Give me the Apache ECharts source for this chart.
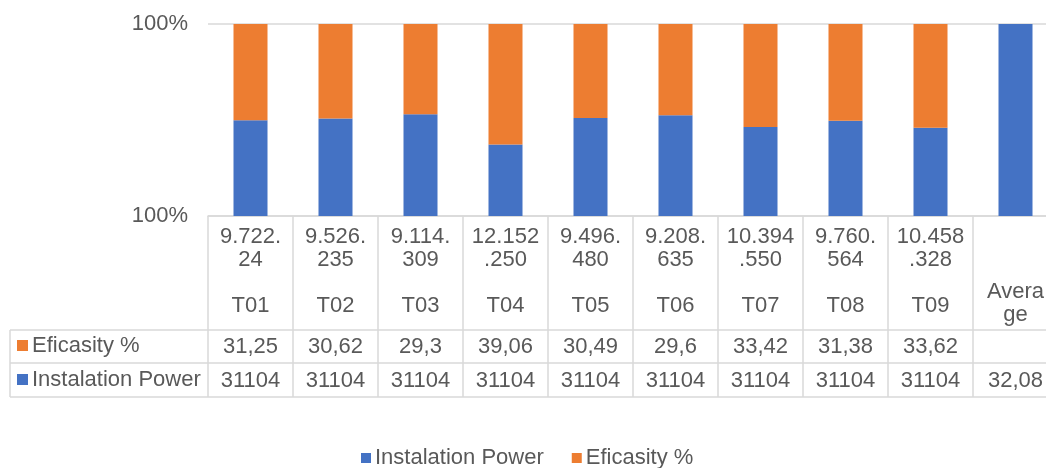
<!DOCTYPE html>
<html>
<head>
<meta charset="utf-8">
<script src="https://cdn.jsdelivr.net/npm/echarts@6/dist/echarts.min.js"></script>
<style>
  html, body { margin: 0; padding: 0; background: #fff; }
  #chart { width: 1046px; height: 468px; }
</style>
</head>
<body>
<div id="chart"></div>
<script>
// Turbine tags and annual yield labels shown in the data table header
const tags = ['T01', 'T02', 'T03', 'T04', 'T05', 'T06', 'T07', 'T08', 'T09', 'Average'];
const yields = ['9.722.24', '9.526.235', '9.114.309', '12.152.250', '9.496.480',
                '9.208.635', '10.394.550', '9.760.564', '10.458.328', ''];

// Series values
const eficasity = [31.25, 30.62, 29.3, 39.06, 30.49, 29.6, 33.42, 31.38, 33.62, null];
const instPower = [31104, 31104, 31104, 31104, 31104, 31104, 31104, 31104, 31104, 32.08];

// Value axis range (percent of the stacked column)
const yMin = 99.8;
const yMax = 100;
const yStep = 0.2;

const TEXT = '#595959';
const LINE = '#d9d9d9';
const BLUE = '#4472C4';
const ORANGE = '#ED7D31';
const FONT = "'Liberation Sans', Arial, sans-serif";
const FS = 22;

// 100% stacking: each column's share of its total
const totals = tags.map((_, i) => (instPower[i] || 0) + (eficasity[i] || 0));
const instShare = instPower.map((v, i) => v == null ? null : v / totals[i] * 100);
const efiShare = eficasity.map((v, i) => v == null ? null : v / totals[i] * 100);

const fmtNum = v => v == null ? '' : String(v).replace('.', ',');

// Table geometry
const gridLeft = 208, gridTop = 24, gridWidth = 850, gridHeight = 192;
const axisY = gridTop + gridHeight;
const rowTop = 330, rowMid = 363, tableBottom = 397, tableLeft = 10;

const chart = echarts.init(document.getElementById('chart'), null, { renderer: 'canvas' });

const labelBase = { color: TEXT, fontFamily: FONT, fontSize: FS };

chart.setOption({
  animation: false,
  textStyle: { fontFamily: FONT },
  grid: {
    left: gridLeft, top: gridTop, width: gridWidth, height: gridHeight,
    containLabel: false, outerBoundsMode: 'none'
  },
  legend: [
    {
      data: ['Instalation Power', 'Eficasity %'],
      left: 361, top: 447, padding: 0,
      icon: 'rect', itemWidth: 10, itemHeight: 10, itemGap: 28,
      selectedMode: false,
      textStyle: { color: TEXT, fontFamily: FONT, fontSize: FS, padding: [0, 0, 0, -1] }
    },
    {
      data: ['Eficasity %', 'Instalation Power'],
      orient: 'vertical',
      left: 17, top: 334, padding: 0,
      icon: 'rect', itemWidth: 11, itemHeight: 11, itemGap: 11,
      selectedMode: false,
      textStyle: { color: TEXT, fontFamily: FONT, fontSize: FS, lineHeight: 23, padding: [0, 0, 0, -1] }
    }
  ],
  xAxis: [
    {
      type: 'category',
      data: tags,
      position: 'bottom',
      axisLine: { show: true, lineStyle: { color: LINE, width: 1.5 } },
      axisTick: {
        show: true, interval: 0, alignWithLabel: false,
        length: tableBottom - axisY,
        lineStyle: { color: LINE, width: 1.5 }
      },
      axisLabel: Object.assign({}, labelBase, {
        interval: 0,
        margin: 9,
        lineHeight: 23,
        align: 'center',
        formatter: (value, index) => {
          const y = yields[index];
          if (!y) {
            // wrapped tag under an empty yield cell
            return '{gap| }\n{c|' + value.slice(0, 5) + '}\n{c|' + value.slice(5) + '}';
          }
          return y.slice(0, 6) + '\n' + y.slice(6) + '\n\n' + value;
        },
        rich: {
          gap: { fontSize: 4, lineHeight: 55 },
          c: { color: TEXT, fontFamily: FONT, fontSize: FS, lineHeight: 23 }
        }
      }),
      splitLine: { show: false }
    },
    {
      type: 'category',
      data: tags,
      position: 'bottom',
      axisLine: { show: false },
      axisTick: { show: false },
      axisLabel: Object.assign({}, labelBase, {
        interval: 0,
        margin: 131,
        verticalAlign: 'middle',
        formatter: (v, i) => fmtNum(eficasity[i])
      })
    },
    {
      type: 'category',
      data: tags,
      position: 'bottom',
      axisLine: { show: false },
      axisTick: { show: false },
      axisLabel: Object.assign({}, labelBase, {
        interval: 0,
        margin: 165,
        verticalAlign: 'middle',
        formatter: (v, i) => fmtNum(instPower[i])
      })
    }
  ],
  yAxis: {
    type: 'value',
    min: yMin,
    max: yMax,
    interval: yStep,
    axisLine: { show: false },
    axisTick: { show: false },
    splitLine: { show: true, lineStyle: { color: LINE, width: 1.5 } },
    axisLabel: Object.assign({}, labelBase, {
      margin: 20,
      formatter: v => Math.round(v) + '%'
    })
  },
  series: [
    {
      name: 'Instalation Power',
      type: 'bar',
      stack: 'share',
      xAxisIndex: 0,
      barWidth: '40%',
      clip: true,
      itemStyle: { color: BLUE },
      data: instShare
    },
    {
      name: 'Eficasity %',
      type: 'bar',
      stack: 'share',
      xAxisIndex: 0,
      barWidth: '40%',
      clip: true,
      itemStyle: { color: ORANGE },
      data: efiShare
    }
  ],
  graphic: [
    { type: 'line', silent: true, shape: { x1: tableLeft, y1: rowTop, x2: gridLeft + gridWidth, y2: rowTop }, style: { stroke: LINE, lineWidth: 1.5 } },
    { type: 'line', silent: true, shape: { x1: tableLeft, y1: rowMid, x2: gridLeft + gridWidth, y2: rowMid }, style: { stroke: LINE, lineWidth: 1.5 } },
    { type: 'line', silent: true, shape: { x1: tableLeft, y1: tableBottom, x2: gridLeft + gridWidth, y2: tableBottom }, style: { stroke: LINE, lineWidth: 1.5 } },
    { type: 'line', silent: true, shape: { x1: tableLeft, y1: rowTop, x2: tableLeft, y2: tableBottom }, style: { stroke: LINE, lineWidth: 1.5 } }
  ]
});
</script>
</body>
</html>
